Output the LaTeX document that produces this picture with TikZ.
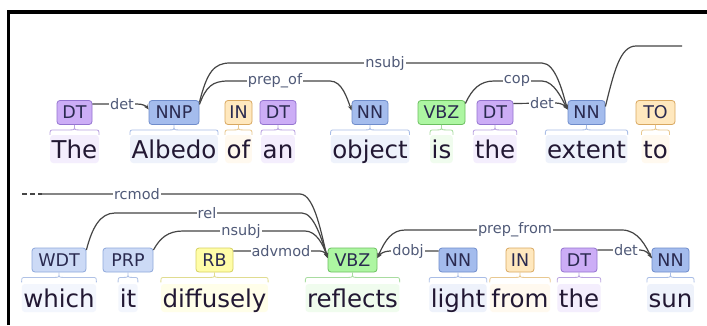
\documentclass[tikz,border=0pt]{standalone}
\usepackage{fontspec}
\setmainfont{DejaVu Sans}
\usetikzlibrary{arrows.meta,calc}
\definecolor{dtf}{HTML}{CCADF6}\definecolor{dtd}{HTML}{9474D0}\definecolor{dtl}{HTML}{F4EEFD}\definecolor{dtb}{HTML}{B9A2E0}
\definecolor{nnf}{HTML}{A4BCED}\definecolor{nnd}{HTML}{6F8CCB}\definecolor{nnl}{HTML}{EEF2FB}\definecolor{nnb}{HTML}{A9BDE6}
\definecolor{inf}{HTML}{FFE8BE}\definecolor{ind}{HTML}{D9A860}\definecolor{inl}{HTML}{FFF9EF}\definecolor{inb}{HTML}{E8C890}
\definecolor{vbf}{HTML}{ADF6A2}\definecolor{vbd}{HTML}{6CC060}\definecolor{vbl}{HTML}{F0FCEE}\definecolor{vbb}{HTML}{A8DCA0}
\definecolor{wdf}{HTML}{CCDAF6}\definecolor{wdd}{HTML}{8EA8DC}\definecolor{wdl}{HTML}{F3F6FD}\definecolor{wdb}{HTML}{B0C2E6}
\definecolor{rbf}{HTML}{FFFDA8}\definecolor{rbd}{HTML}{D5D060}\definecolor{rbl}{HTML}{FFFEE9}\definecolor{rbb}{HTML}{E0DC90}
\definecolor{arcc}{HTML}{454545}\definecolor{labc}{HTML}{505A78}
\definecolor{tagtext}{HTML}{2A2A50}\definecolor{wordtext}{HTML}{221833}
\newcommand\wbr[3]{\draw[#3, line width=0.8pt] let \p1=(#1.west), \p2=(#1.east), \p3=(#2.south) in
  (\x1,\y3-10pt) .. controls (\x1,\y3-5pt) .. (\x1+5pt,\y3-5pt) -- (\x3-4pt,\y3-5pt) .. controls (\x3,\y3-5pt) .. (\x3,\y3)
  .. controls (\x3,\y3-5pt) .. (\x3+4pt,\y3-5pt) -- (\x2-5pt,\y3-5pt) .. controls (\x2,\y3-5pt) .. (\x2,\y3-10pt);}
\begin{document}
\begin{tikzpicture}[x=1pt,y=-1pt,
  tag/.style={draw, rounded corners=3pt, line width=0.8pt, minimum height=24pt, inner sep=0pt, font=\fontsize{17.5}{18}\selectfont, text=tagtext},
  word/.style={anchor=base, rounded corners=3pt, inner xsep=1.5pt, inner ysep=1pt, text height=22pt, text depth=4pt, font=\fontsize{24.5}{26}\selectfont, text=wordtext},
  arc/.style={draw=arcc, line width=1.2pt},
  arr/.style={arc, -{Stealth[length=5pt,width=4pt]}},
  arrs/.style={arc, {Stealth[length=5pt,width=4pt]}-},
  lab/.style={fill=white, inner sep=1pt, font=\fontsize{14.5}{15}\selectfont, text=labc},
]
\useasboundingbox (0,0) rectangle (707,325);
\fill[white] (0,0) rectangle (707,325);
\draw[line width=3.5pt] (8.5,325) -- (8.5,12) -- (707,12);
% words row 1
\node[word, fill=dtl] (w1) at (74.5,158) {The};
\node[word, fill=nnl] (w2) at (174,158) {Albedo};
\node[word, fill=inl] (w3) at (238.5,158) {of};
\node[word, fill=dtl] (w4) at (278,158) {an};
\node[word, fill=nnl] (w5) at (370,158) {object};
\node[word, fill=vbl] (w6) at (441.5,158) {is};
\node[word, fill=dtl] (w7) at (495,158) {the};
\node[word, fill=nnl] (w8) at (586.5,158) {extent};
\node[word, fill=inl] (w9) at (655.5,158) {to};
% words row 2
\node[word, fill=wdl] (v1) at (59,307) {which};
\node[word, fill=wdl] (v2) at (128,307) {it};
\node[word, fill=rbl] (v3) at (214.5,307) {diffusely};
\node[word, fill=vbl] (v4) at (352.5,307) {reflects};
\node[word, fill=nnl] (v5) at (458,307) {light};
\node[word, fill=inl] (v6) at (520,307) {from};
\node[word, fill=dtl] (v7) at (579,307) {the};
\node[word, fill=nnl] (v8) at (670.5,307) {sun};
% tags row 1
\node[tag, fill=dtf, draw=dtd, minimum width=35pt] (t1) at (74.5,112.5) {DT};
\node[tag, fill=nnf, draw=nnd, minimum width=50pt] (t2) at (174,112.5) {NNP};
\node[tag, fill=inf, draw=ind, minimum width=27pt] (t3) at (238.5,112.5) {IN};
\node[tag, fill=dtf, draw=dtd, minimum width=36pt] (t4) at (278,112.5) {DT};
\node[tag, fill=nnf, draw=nnd, minimum width=36pt] (t5) at (370,112.5) {NN};
\node[tag, fill=vbf, draw=vbd, minimum width=47pt] (t6) at (441.5,112.5) {VBZ};
\node[tag, fill=dtf, draw=dtd, minimum width=36pt] (t7) at (495,112.5) {DT};
\node[tag, fill=nnf, draw=nnd, minimum width=37pt] (t8) at (586.5,112.5) {NN};
\node[tag, fill=inf, draw=ind, minimum width=39pt] (t9) at (655.5,112.5) {TO};
% tags row 2
\node[tag, fill=wdf, draw=wdd, minimum width=54pt] (u1) at (59,260) {WDT};
\node[tag, fill=wdf, draw=wdd, minimum width=50pt] (u2) at (128,260) {PRP};
\node[tag, fill=rbf, draw=rbd, minimum width=37pt] (u3) at (214.5,260) {RB};
\node[tag, fill=vbf, draw=vbd, minimum width=49pt] (u4) at (352.5,260) {VBZ};
\node[tag, fill=nnf, draw=nnd, minimum width=38pt] (u5) at (458,260) {NN};
\node[tag, fill=inf, draw=ind, minimum width=28pt] (u6) at (520,260) {IN};
\node[tag, fill=dtf, draw=dtd, minimum width=36pt] (u7) at (579,260) {DT};
\node[tag, fill=nnf, draw=nnd, minimum width=37pt] (u8) at (670.5,260) {NN};
% braces
\wbr{w1}{t1}{dtb}\wbr{w2}{t2}{nnb}\wbr{w3}{t3}{inb}\wbr{w4}{t4}{dtb}\wbr{w5}{t5}{nnb}
\wbr{w6}{t6}{vbb}\wbr{w7}{t7}{dtb}\wbr{w8}{t8}{nnb}\wbr{w9}{t9}{inb}
\wbr{v1}{u1}{wdb}\wbr{v2}{u2}{wdb}\wbr{v3}{u3}{rbb}\wbr{v4}{u4}{vbb}\wbr{v5}{u5}{nnb}
\wbr{v6}{u6}{inb}\wbr{v7}{u7}{dtb}\wbr{v8}{u8}{nnb}
% arcs row 1
\draw[arr] ($(t1.east)+(0,-8.5)$) -- (137,104) .. controls (143,104) and (146,106) .. ($(t2.west)+(0,-3)$);
\draw[arr] ($(t2.east)+(0,-8)$) .. controls (206,87) and (212,81) .. (228,81) -- (330,81) .. controls (342,81) and (347,98) .. ($(t5.west)+(0,-2)$);
\draw[arr] ($(t2.east)+(0,-10)$) .. controls (207,72) and (214,63) .. (230,63) -- (542,63) .. controls (556,63) and (563,94) .. ($(t8.west)+(0,-3)$);
\draw[arr] ($(t6.east)+(0,-9)$) .. controls (472,89) and (480,81) .. (494,81) -- (542,81) .. controls (554,81) and (562,99) .. ($(t8.west)+(0,-3)$);
\draw[arr] ($(t7.east)+(0,-9)$) -- (556,103) .. controls (562,103) and (565,106) .. ($(t8.west)+(0,-3)$);
\coordinate (r1) at (682,46);
\draw[arc] ($(t8.east)+(0,-6)$) .. controls (614,72) and (620,46) .. (636,46) -- (r1);
% arcs row 2
\coordinate (r0) at (22,194);
\draw[arc, dash pattern=on 5pt off 3pt] (r0) -- (42,194);
\draw[arr] (42,194) -- (300,194) .. controls (315,194) and (322,238) .. ($(u4.west)+(0,-2)$);
\draw[arr] ($(u1.east)+(0,-10)$) .. controls (92,228) and (100,213) .. (115,213) -- (302,213) .. controls (314,213) and (322,240) .. ($(u4.west)+(0,-2)$);
\draw[arr] ($(u2.east)+(0,-10)$) .. controls (160,238) and (168,231) .. (183,231) -- (305,231) .. controls (316,231) and (323,244) .. ($(u4.west)+(0,-2)$);
\draw[arr] ($(u3.east)+(0,-9)$) -- (320,251) .. controls (324,251) and (326,254) .. ($(u4.west)+(0,-2)$);
\draw[arr] ($(u5.west)+(0,-9)$) -- (390,251) .. controls (384,251) and (380,254) .. ($(u4.east)+(0,-2)$);
\draw[arrs] ($(u4.east)+(0,-2)$) .. controls (385,240) and (392,230) .. (405,230) -- (622,230) .. controls (638,230) and (646,246) .. ($(u8.west)+(0,-2)$);
\draw[arr] ($(u7.east)+(0,-10)$) -- (640,250) .. controls (646,250) and (649,254) .. ($(u8.west)+(0,-2)$);
% labels
\node[lab] (l1) at (122,104) {det};
\node[lab] (l2) at (275,81) {prep\_of};
\node[lab] (l3) at (385,63) {nsubj};
\node[lab] (l4) at (517,81) {cop};
\node[lab] (l5) at (542,103) {det};
\node[lab] (m1) at (137,194) {rcmod};
\node[lab] (m2) at (207,213) {rel};
\node[lab] (m3) at (241,231) {nsubj};
\node[lab] (m4) at (281,251) {advmod};
\node[lab] (m5) at (408,251) {dobj};
\node[lab] (m6) at (515,230) {prep\_from};
\node[lab] (m7) at (626,250) {det};
\end{tikzpicture}
\end{document}
